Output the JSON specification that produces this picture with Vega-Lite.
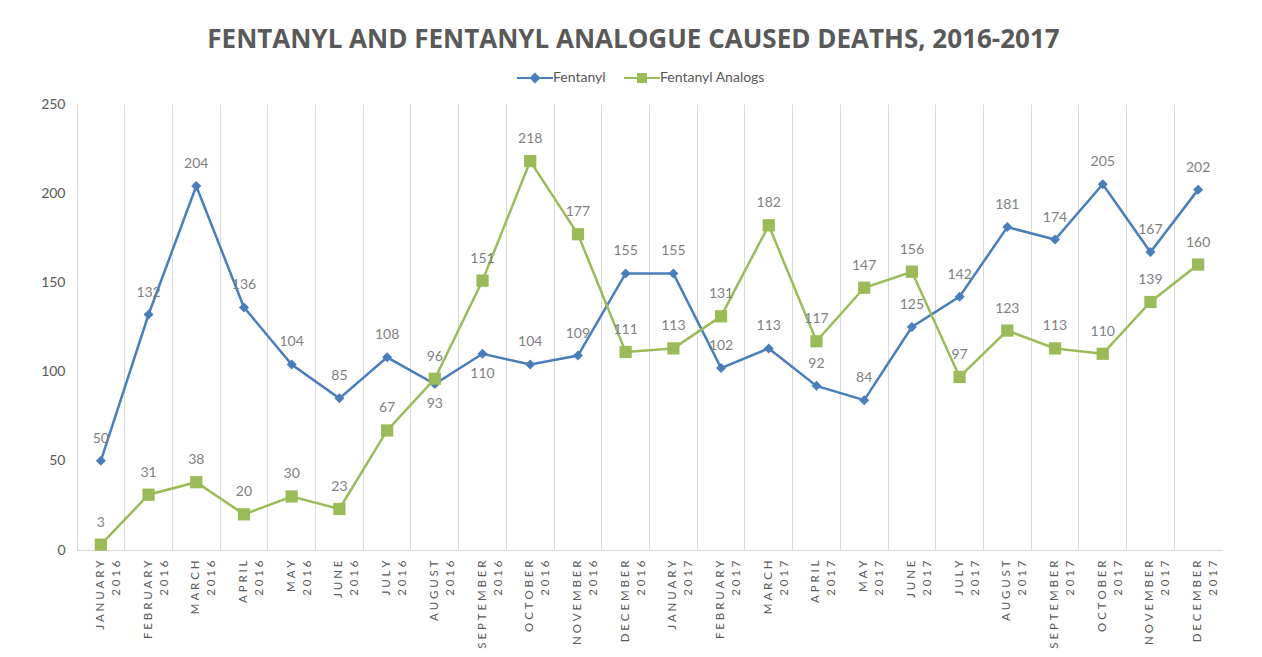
{
  "$schema": "https://vega.github.io/schema/vega-lite/v6.json",
  "autosize": {"type": "none"},
  "width": 1145,
  "height": 446,
  "padding": {"left": 77, "top": 104, "right": 40, "bottom": 107},
  "background": "white",
  "config": {
    "view": {"stroke": null},
    "font": "Lato",
    "axis": {"labelFont": "Lato", "labelColor": "#595959"},
    "legend": {"labelFont": "Lato"}
  },
  "title": {
    "text": "FENTANYL AND FENTANYL ANALOGUE CAUSED DEATHS, 2016-2017",
    "font": "Open Sans",
    "fontSize": 26,
    "fontWeight": "bold",
    "color": "#595959",
    "anchor": "middle",
    "dx": -16,
    "offset": 18
  },
  "data": {
    "values": [
      {"month": "JANUARY 2016", "series": "Fentanyl", "deaths": 50},
      {"month": "FEBRUARY 2016", "series": "Fentanyl", "deaths": 132},
      {"month": "MARCH 2016", "series": "Fentanyl", "deaths": 204},
      {"month": "APRIL 2016", "series": "Fentanyl", "deaths": 136},
      {"month": "MAY 2016", "series": "Fentanyl", "deaths": 104},
      {"month": "JUNE 2016", "series": "Fentanyl", "deaths": 85},
      {"month": "JULY 2016", "series": "Fentanyl", "deaths": 108},
      {"month": "AUGUST 2016", "series": "Fentanyl", "deaths": 93},
      {"month": "SEPTEMBER 2016", "series": "Fentanyl", "deaths": 110},
      {"month": "OCTOBER 2016", "series": "Fentanyl", "deaths": 104},
      {"month": "NOVEMBER 2016", "series": "Fentanyl", "deaths": 109},
      {"month": "DECEMBER 2016", "series": "Fentanyl", "deaths": 155},
      {"month": "JANUARY 2017", "series": "Fentanyl", "deaths": 155},
      {"month": "FEBRUARY 2017", "series": "Fentanyl", "deaths": 102},
      {"month": "MARCH 2017", "series": "Fentanyl", "deaths": 113},
      {"month": "APRIL 2017", "series": "Fentanyl", "deaths": 92},
      {"month": "MAY 2017", "series": "Fentanyl", "deaths": 84},
      {"month": "JUNE 2017", "series": "Fentanyl", "deaths": 125},
      {"month": "JULY 2017", "series": "Fentanyl", "deaths": 142},
      {"month": "AUGUST 2017", "series": "Fentanyl", "deaths": 181},
      {"month": "SEPTEMBER 2017", "series": "Fentanyl", "deaths": 174},
      {"month": "OCTOBER 2017", "series": "Fentanyl", "deaths": 205},
      {"month": "NOVEMBER 2017", "series": "Fentanyl", "deaths": 167},
      {"month": "DECEMBER 2017", "series": "Fentanyl", "deaths": 202},
      {"month": "JANUARY 2016", "series": "Fentanyl Analogs", "deaths": 3},
      {"month": "FEBRUARY 2016", "series": "Fentanyl Analogs", "deaths": 31},
      {"month": "MARCH 2016", "series": "Fentanyl Analogs", "deaths": 38},
      {"month": "APRIL 2016", "series": "Fentanyl Analogs", "deaths": 20},
      {"month": "MAY 2016", "series": "Fentanyl Analogs", "deaths": 30},
      {"month": "JUNE 2016", "series": "Fentanyl Analogs", "deaths": 23},
      {"month": "JULY 2016", "series": "Fentanyl Analogs", "deaths": 67},
      {"month": "AUGUST 2016", "series": "Fentanyl Analogs", "deaths": 96},
      {"month": "SEPTEMBER 2016", "series": "Fentanyl Analogs", "deaths": 151},
      {"month": "OCTOBER 2016", "series": "Fentanyl Analogs", "deaths": 218},
      {"month": "NOVEMBER 2016", "series": "Fentanyl Analogs", "deaths": 177},
      {"month": "DECEMBER 2016", "series": "Fentanyl Analogs", "deaths": 111},
      {"month": "JANUARY 2017", "series": "Fentanyl Analogs", "deaths": 113},
      {"month": "FEBRUARY 2017", "series": "Fentanyl Analogs", "deaths": 131},
      {"month": "MARCH 2017", "series": "Fentanyl Analogs", "deaths": 182},
      {"month": "APRIL 2017", "series": "Fentanyl Analogs", "deaths": 117},
      {"month": "MAY 2017", "series": "Fentanyl Analogs", "deaths": 147},
      {"month": "JUNE 2017", "series": "Fentanyl Analogs", "deaths": 156},
      {"month": "JULY 2017", "series": "Fentanyl Analogs", "deaths": 97},
      {"month": "AUGUST 2017", "series": "Fentanyl Analogs", "deaths": 123},
      {"month": "SEPTEMBER 2017", "series": "Fentanyl Analogs", "deaths": 113},
      {"month": "OCTOBER 2017", "series": "Fentanyl Analogs", "deaths": 110},
      {"month": "NOVEMBER 2017", "series": "Fentanyl Analogs", "deaths": 139},
      {"month": "DECEMBER 2017", "series": "Fentanyl Analogs", "deaths": 160}
    ]
  },
  "encoding": {
    "x": {
      "field": "month",
      "type": "nominal",
      "sort": null,
      "scale": {"type": "band", "paddingInner": 0, "paddingOuter": 0},
      "axis": {
        "title": null,
        "bandPosition": 0,
        "grid": true,
        "gridColor": "#d9d9d9",
        "gridWidth": 1,
        "domainColor": "#d9d9d9",
        "domainWidth": 1,
        "ticks": false,
        "labelAngle": -90,
        "labelAlign": "right",
        "labelBaseline": "middle",
        "labelFontSize": 11.5,
        "labelPadding": 10,
        "labelLineHeight": 16,
        "labelExpr": "[join(split(split(datum.label, ' ')[0], ''), '\u2005'), join(split(split(datum.label, ' ')[1], ''), '\u2005')]"
      }
    },
    "y": {
      "field": "deaths",
      "type": "quantitative",
      "scale": {"domain": [0, 250], "nice": false},
      "axis": {
        "title": null,
        "values": [0, 50, 100, 150, 200, 250],
        "grid": false,
        "domain": false,
        "ticks": false,
        "labelFontSize": 14,
        "labelPadding": 12
      }
    },
    "color": {
      "field": "series",
      "type": "nominal",
      "scale": {"domain": ["Fentanyl", "Fentanyl Analogs"], "range": ["#4a7ebb", "#9bbb59"]},
      "legend": {
        "title": null,
        "orient": "none",
        "direction": "horizontal",
        "legendX": 451,
        "legendY": -33,
        "labelFontSize": 14,
        "labelColor": "#595959",
        "symbolSize": 100,
        "labelOffset": 11,
        "columnPadding": 18,
        "encode": {
          "symbols": {
            "update": {
              "shape": {"signal": "datum.value === 'Fentanyl' ? 'M-3.6,-0.22H3.6V0.22H-3.6Z M0,-1.1L1.1,0L0,1.1L-1.1,0Z' : 'M-3.6,-0.22H3.6V0.22H-3.6Z M-1,-1H1V1H-1Z'"},
              "fill": {"signal": "datum.value === 'Fentanyl' ? '#4a7ebb' : '#9bbb59'"},
              "stroke": {"value": "transparent"},
              "strokeWidth": {"value": 0},
              "opacity": {"value": 1},
              "fillOpacity": {"value": 1}
            }
          }
        }
      }
    }
  },
  "layer": [
    {
      "data": {"values": [{"month": "DECEMBER 2017"}]},
      "mark": {"type": "rule", "color": "#d9d9d9", "strokeWidth": 1},
      "encoding": {
        "x": {"field": "month", "type": "nominal", "bandPosition": 1},
        "y": {"datum": 0},
        "y2": {"datum": 250},
        "color": {"value": "#d9d9d9"}
      }
    },
    {
      "mark": {"type": "line", "strokeWidth": 2.5}
    },
    {
      "transform": [{"filter": "datum.series === 'Fentanyl'"}],
      "mark": {"type": "point", "filled": true, "opacity": 1, "shape": "diamond", "size": 100}
    },
    {
      "transform": [{"filter": "datum.series === 'Fentanyl Analogs'"}],
      "mark": {"type": "point", "filled": true, "opacity": 1, "shape": "square", "size": 150}
    },
    {
      "transform": [{"filter": "!(datum.series === 'Fentanyl' && (datum.month === 'AUGUST 2016' || datum.month === 'SEPTEMBER 2016'))"}],
      "mark": {"type": "text", "dy": -22, "fontSize": 14, "font": "Lato", "color": "#7f7f7f", "baseline": "middle"},
      "encoding": {"text": {"field": "deaths", "type": "quantitative"}, "color": {"value": "#7f7f7f"}}
    },
    {
      "transform": [{"filter": "datum.series === 'Fentanyl' && (datum.month === 'AUGUST 2016' || datum.month === 'SEPTEMBER 2016')"}],
      "mark": {"type": "text", "dy": 20, "fontSize": 14, "font": "Lato", "color": "#7f7f7f", "baseline": "middle"},
      "encoding": {"text": {"field": "deaths", "type": "quantitative"}, "color": {"value": "#7f7f7f"}}
    }
  ]
}
